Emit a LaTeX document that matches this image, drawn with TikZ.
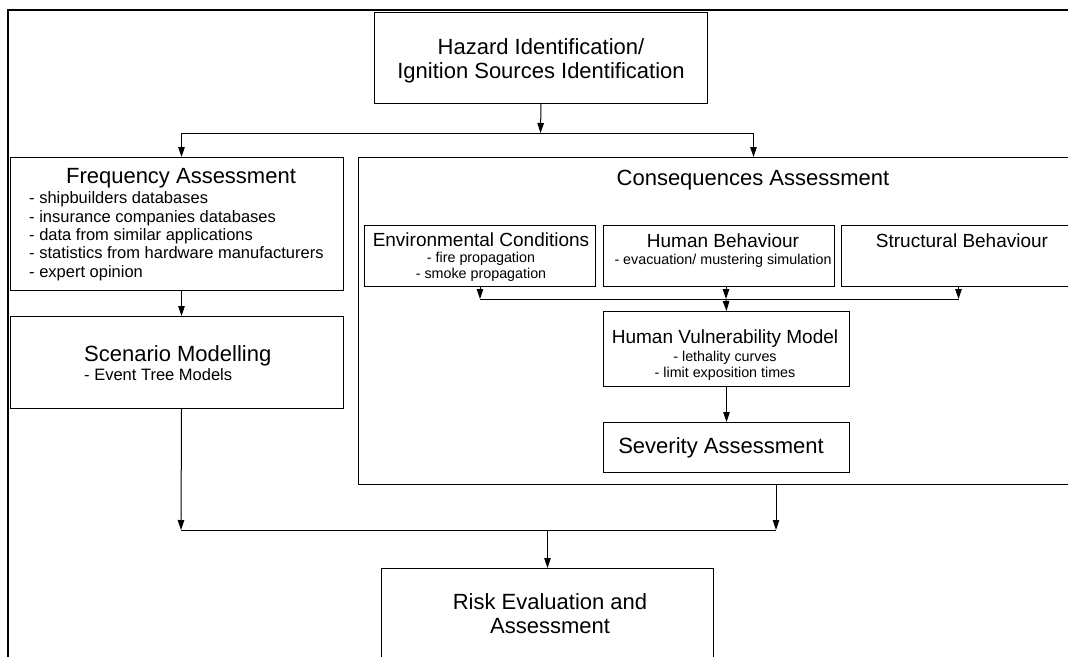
\documentclass[tikz,border=0pt]{standalone}
\usepackage{fontspec}
\setmainfont{Liberation Sans}
\usetikzlibrary{arrows.meta}
\begin{document}
\begin{tikzpicture}[x=1pt,y=-1pt,
  box/.style={draw=black, line width=1pt, anchor=north west, inner sep=0pt},
  arr/.style={draw=black, line width=1pt, -{Triangle[length=10pt,width=6.5pt]}},
  link/.style={draw=black, line width=1pt},
  frame/.style={draw=black, line width=2.2pt},
  big/.style={font=\fontsize{22}{26}\selectfont, inner sep=0pt},
  mid/.style={font=\fontsize{19}{22}\selectfont, inner sep=0pt},
  item/.style={font=\fontsize{16.5}{19}\selectfont, inner sep=0pt},
  small/.style={font=\fontsize{14.3}{16}\selectfont, inner sep=0pt}]
\clip (0,0) rectangle (1068,656);
\fill[white] (0,0) rectangle (1068,656);

% outer frame (only its top and left sides fall inside the page)
\draw[frame] (8,700) -- (8,10) -- (1100,10);

% boxes
\node[box, minimum width=333pt, minimum height=91pt]  (top)    at (374,12)  {};
\node[box, minimum width=333pt, minimum height=133pt] (freq)   at (10,157)  {};
\node[box, minimum width=333pt, minimum height=92pt]  (scen)   at (10,316)  {};
\node[box, minimum width=790pt, minimum height=327pt] (cons)   at (358,157) {};
\node[box, minimum width=231pt, minimum height=61pt]  (env)    at (364,225) {};
\node[box, minimum width=231pt, minimum height=61pt]  (hb)     at (603,225) {};
\node[box, minimum width=242pt, minimum height=61pt]  (struct) at (841,225) {};
\node[box, minimum width=246pt, minimum height=75pt]  (hvm)    at (603,311) {};
\node[box, minimum width=246pt, minimum height=50pt]  (sev)    at (603,422) {};
\node[box, minimum width=332pt, minimum height=132pt] (risk)   at (381,568) {};

% texts
\node[big, anchor=base] (tTop1) at (541,54) {Hazard Identification/};
\node[big, anchor=base] (tTop2) at (541,78) {Ignition Sources Identification};

\node[big, anchor=base] (tFreq) at (181,183) {Frequency Assessment};
\node[item, anchor=base west] (tF1) at (29,203) {- shipbuilders databases};
\node[item, anchor=base west] (tF2) at (29,222) {- insurance companies databases};
\node[item, anchor=base west] (tF3) at (29,240) {- data from similar applications};
\node[item, anchor=base west] (tF4) at (29,258) {- statistics from hardware manufacturers};
\node[item, anchor=base west] (tF5) at (29,277) {- expert opinion};

\node[big, anchor=base west] (tScen) at (84,361) {Scenario Modelling};
\node[item, anchor=base west] (tScen1) at (84,380) {- Event Tree Models};

\node[big, anchor=base] (tCons) at (753,185) {Consequences Assessment};

\node[mid, anchor=base] (tEnv) at (481,246) {Environmental Conditions};
\node[small, anchor=base] (tEnv1) at (481,262) {- fire propagation};
\node[small, anchor=base] (tEnv2) at (481,278) {- smoke propagation};

\node[mid, anchor=base] (tHb) at (723,247) {Human Behaviour};
\node[small, anchor=base] (tHb1) at (723,264) {- evacuation/ mustering simulation};

\node[mid, anchor=base] (tSt) at (962,247) {Structural Behaviour};

\node[mid, anchor=base] (tHvm) at (725,343) {Human Vulnerability Model};
\node[small, anchor=base] (tHvm1) at (725,361) {- lethality curves};
\node[small, anchor=base] (tHvm2) at (725,377) {- limit exposition times};

\node[big, anchor=base] (tSev) at (721,453) {Severity Assessment};

\node[big, anchor=base] (tRisk1) at (550,609) {Risk Evaluation and};
\node[big, anchor=base] (tRisk2) at (550,633) {Assessment};

% junctions
\coordinate (j1) at (540.5,133);
\coordinate (j2) at (726,299);
\coordinate (jL) at (181,530);
\coordinate (jR) at (776,530);

% connectors: hazard identification to the two assessments
\draw[arr] (top.south) -- (j1);
\draw[arr] (j1) -| ([xshift=4.5pt]freq.north);
\draw[arr] (j1) -| (cons.north);

% frequency branch
\draw[arr] ([xshift=4.5pt]freq.south) -- ([xshift=4.5pt]scen.north);
\draw[arr] ([xshift=4.5pt]scen.south) -- (jL);

% consequences branch
\draw[arr] (env.south) -- (env.south |- j2);
\draw[arr] (hb.south -| j2) -- (j2);
\draw[arr] ([xshift=-4pt]struct.south) -- ([xshift=-4pt]struct.south |- j2);
\draw[link] (env.south |- j2) -- ([xshift=-4pt]struct.south |- j2);
\draw[arr] (j2) -- (hvm.north);
\draw[arr] (hvm.south) -- (sev.north);

% merge into risk evaluation
\draw[arr] (jR |- cons.south) -- (jR);
\draw[link] (jL) -- (jR);
\draw[arr] (risk.north |- jL) -- (risk.north);
\end{tikzpicture}
\end{document}
